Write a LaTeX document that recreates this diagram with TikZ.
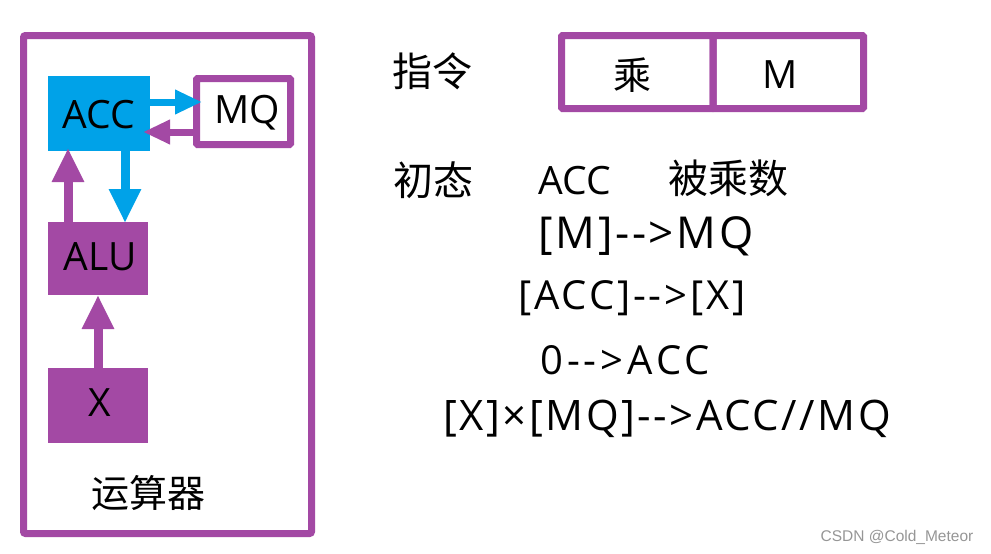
\documentclass[tikz,border=0pt]{standalone}
\usepackage{fontspec}
\setmainfont{Open Sans}
\newfontfamily\cjk{Noto Sans CJK SC}
\newfontfamily\wm{Liberation Sans}
\newfontfamily\spA[LetterSpace=6]{Open Sans}
\newfontfamily\spB[LetterSpace=7]{Open Sans}
\newfontfamily\spC[LetterSpace=10]{Open Sans}
\usetikzlibrary{arrows.meta}
\definecolor{pur}{RGB}{163,73,164}
\definecolor{blu}{RGB}{0,162,232}
\definecolor{wmgray}{RGB}{150,150,150}
\tikzset{
  lat/.style={inner sep=0pt},
  boxt/.style={font=\fontsize{39}{41}\selectfont, inner sep=0pt},
  han/.style={font=\cjk\fontsize{40}{42}\selectfont, inner sep=0pt},
  fillbox/.style={inner sep=0pt, outer sep=0pt},
  frame/.style={draw=pur, line width=7pt, rounded corners=2pt},
  varrow/.style={line width=9pt, -{Triangle[width=30pt,length=34pt]}},
  harrow/.style={line width=7pt, -{Triangle[width=23pt,length=27pt]}},
}
\begin{document}
\begin{tikzpicture}[x=1pt,y=-1pt]
\useasboundingbox (0,0) rectangle (991,554);
\fill[white] (0,0) rectangle (991,554);
% outer frame
\draw[frame] (23.5,35.5) rectangle (311.5,533.5);
% registers
\node[fillbox, fill=blu, minimum width=102pt, minimum height=75pt] (acc) at (99,113.5) {};
\node[boxt] (acct) at (99,115) {ACC};
\node[frame, rounded corners=1pt, minimum width=94pt, minimum height=66pt, inner sep=0pt] (mq) at (243.5,111.5) {};
\node[boxt] (mqt) at (247,113) {MQ};
\node[fillbox, fill=pur, minimum width=100pt, minimum height=73pt] (alu) at (98,258.5) {};
\node[boxt] (alut) at (100,257) {ALU};
\node[fillbox, fill=pur, minimum width=100pt, minimum height=75pt] (x) at (98,405.5) {};
\node[boxt] (xt) at (100,403) {X};
\node[han, font=\cjk\fontsize{38}{40}\selectfont] (ysq) at (148,493) {运算器};
% connectors
\draw[blu, harrow, shorten >=-9pt] (acc.east |- 0,102) -- (mq.west |- 0,102);
\draw[pur, harrow, shorten >=-7pt] (mq.west |- 0,132) -- (acc.east |- 0,132);
\draw[pur, varrow, shorten >=-3pt] (alu.north -| 68,0) -- (acc.south -| 68,0);
\draw[blu, varrow, shorten >=-1pt] (acc.south -| 125,0) -- (alu.north -| 125,0);
\draw[pur, varrow] (x.north -| 98,0) -- (alu.south -| 98,0);
% instruction
\node[han] (zl) at (432,71) {指令};
\node[frame, rounded corners=1pt, minimum width=151.5pt, minimum height=73pt, inner sep=0pt] (op) at (637.25,72) {};
\node[frame, rounded corners=1pt, minimum width=150.5pt, minimum height=73pt, inner sep=0pt] (ad) at (788.25,72) {};
\node[han, font=\cjk\fontsize{38}{40}\selectfont] (opt) at (632,75) {乘};
\node[boxt] (adt) at (780,75) {M};
% steps
\node[han] (ct) at (433,180) {初态};
\node[boxt] (s0) at (575,181) {ACC};
\node[han] (bcs) at (728,178) {被乘数};
\node[lat, font=\spA\fontsize{44}{46}\selectfont] (s1) at (646,236) {[M]-{}->MQ};
\node[lat, font=\spB\fontsize{40}{42}\selectfont] (s2) at (632,298) {[ACC]-{}->[X]};
\node[lat, font=\spC\fontsize{40}{42}\selectfont] (s3) at (625,360) {0-{}->ACC};
\node[lat, font=\spA\fontsize{42}{44}\selectfont] (s4) at (667,419) {[X]×[MQ]-{}->ACC//MQ};
% watermark
\node[font=\wm\fontsize{15.5}{17}\selectfont, text=wmgray, inner sep=0pt] (wmk) at (897,537) {CSDN @Cold\_Meteor};
\end{tikzpicture}
\end{document}
